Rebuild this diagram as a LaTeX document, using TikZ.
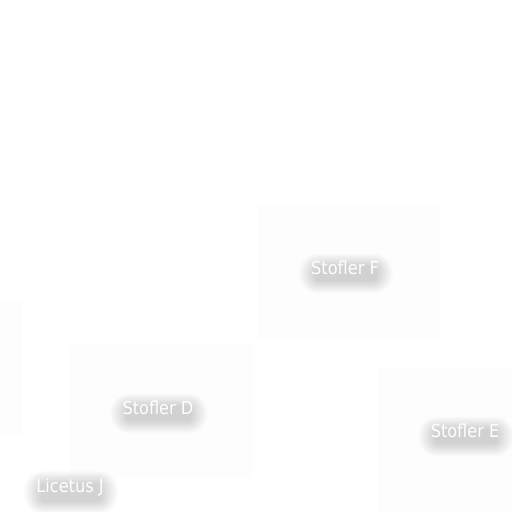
\documentclass[tikz,border=0pt]{standalone}
\usepackage{fontspec}
\usetikzlibrary{calc}
\newfontfamily\labfont{DejaVu Sans Condensed}
\definecolor{faint}{HTML}{FDFDFD}
\definecolor{faintb}{HTML}{FDFDFD}
\pgfdeclarelayer{bg}
\pgfdeclarelayer{shadowlayer}
\pgfsetlayers{bg,shadowlayer,main}
\tikzset{
  region/.style={fill=faint, draw=none},
  regionb/.style={fill=faintb, draw=none},
  lab/.style={text=white, font=\labfont\fontsize{18}{20}\selectfont, inner sep=0pt, anchor=center},
  blob/.style={fill=black, opacity=0.014, draw=none}
}
\newcommand{\shadowlabel}[3]{%
  \node[lab] (#1) at (#2) {#3};
  \begin{pgfonlayer}{shadowlayer}
  \foreach \k in {0,...,10}{
    \fill[blob, rounded corners={4bp+1.5bp*\k}]
      ($(#1.north west)+(4-1.6*\k,5-1.2*\k)$) rectangle ($(#1.south east)+(-2+1.6*\k,6+1.2*\k)$);
  }
  \end{pgfonlayer}
}
\begin{document}
\begin{tikzpicture}[x=1bp,y=-1bp]
\begin{pgfonlayer}{bg}
\fill[white] (0,0) rectangle (512,512);
\fill[region] (258,205) rectangle (440,340);
\fill[regionb] (0,300) rectangle (22,435);
\fill[regionb] (70,345) rectangle (253,478);
\fill[regionb] (378,367) rectangle (512,512);
\end{pgfonlayer}
\useasboundingbox (0,0) rectangle (512,512);
\shadowlabel{f}{345,268}{Stofler F}
\shadowlabel{d}{158,408}{Stofler D}
\shadowlabel{e}{465,431}{Stofler E}
\shadowlabel{j}{70,487}{Licetus J}
\end{tikzpicture}
\end{document}
